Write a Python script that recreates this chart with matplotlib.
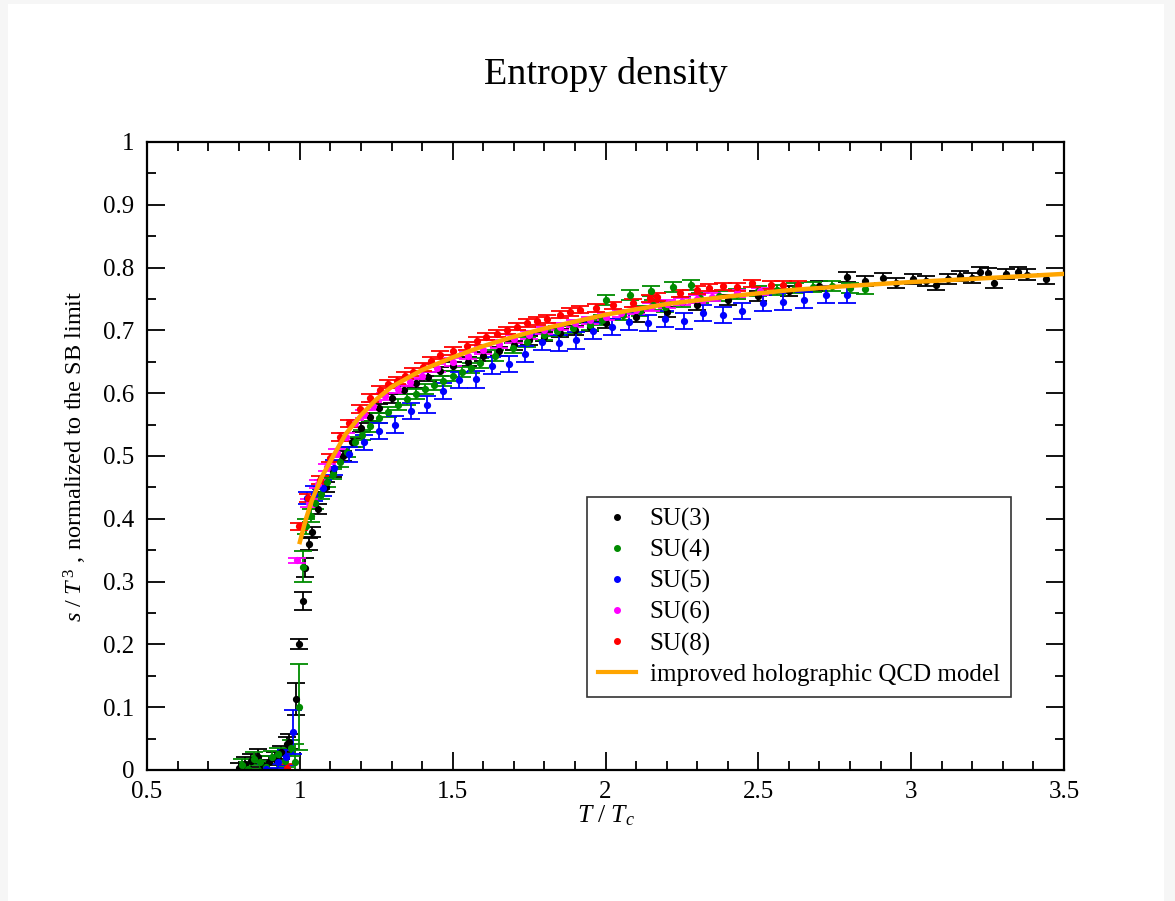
import matplotlib
matplotlib.use('Agg')
from matplotlib import pyplot as plt
from matplotlib.lines import Line2D
from matplotlib.patches import Rectangle
from matplotlib.ticker import MultipleLocator

plt.rcParams['font.family'] = ['Liberation Serif', 'DejaVu Serif']
plt.rcParams['mathtext.fontset'] = 'custom'
plt.rcParams['mathtext.rm'] = 'Liberation Serif'
plt.rcParams['mathtext.it'] = 'Liberation Serif:italic'

# SU(3)
T3 = [0.80, 0.82, 0.84, 0.864, 0.88, 0.90, 0.92, 0.94, 0.958, 0.965,
      0.987, 0.998, 1.009, 1.017, 1.030, 1.040, 1.060, 1.084, 1.11, 1.14,
      1.17, 1.20, 1.23, 1.26, 1.30, 1.34, 1.38, 1.42, 1.46, 1.50,
      1.55, 1.60, 1.65, 1.70, 1.75, 1.80, 1.85, 1.90, 1.95, 2.00,
      2.10, 2.20, 2.30, 2.40, 2.50, 2.60, 2.70, 2.79, 2.85, 2.907,
      2.95, 3.006, 3.05, 3.08, 3.12, 3.16, 3.20, 3.225, 3.25, 3.27,
      3.31, 3.35, 3.38, 3.44]
s3 = [0.003, 0.010, 0.015, 0.021, 0.008, 0.012, 0.018, 0.028, 0.041, 0.045,
      0.113, 0.200, 0.269, 0.322, 0.360, 0.379, 0.415, 0.450, 0.475, 0.500,
      0.522, 0.545, 0.562, 0.576, 0.592, 0.605, 0.616, 0.626, 0.635, 0.643,
      0.650, 0.659, 0.667, 0.676, 0.684, 0.690, 0.696, 0.700, 0.706, 0.711,
      0.721, 0.730, 0.740, 0.748, 0.755, 0.762, 0.770, 0.785, 0.778, 0.783,
      0.775, 0.782, 0.778, 0.772, 0.782, 0.787, 0.784, 0.793, 0.791, 0.776,
      0.790, 0.793, 0.789, 0.782]
ds3 = [0.008, 0.010, 0.010, 0.012, 0.008, 0.010, 0.010, 0.010, 0.012, 0.012,
       0.025, 0.008, 0.015, 0.015, 0.010, 0.008, 0.008, 0.008, 0.008, 0.008,
       0.007, 0.007, 0.007, 0.007, 0.007, 0.007, 0.007, 0.007, 0.007, 0.007,
       0.007, 0.007, 0.007, 0.007, 0.007, 0.007, 0.007, 0.007, 0.007, 0.007,
       0.008, 0.008, 0.008, 0.008, 0.008, 0.008, 0.008, 0.008, 0.008, 0.008,
       0.008, 0.008, 0.008, 0.008, 0.008, 0.008, 0.008, 0.008, 0.008, 0.008,
       0.008, 0.008, 0.008, 0.008]

# SU(4)
T4 = [0.81, 0.83, 0.85, 0.87, 0.89, 0.91, 0.93, 0.95, 0.97, 0.985,
      0.997, 1.010, 1.020, 1.035, 1.05, 1.07, 1.09, 1.11, 1.13, 1.155,
      1.18, 1.205, 1.23, 1.26, 1.29, 1.32, 1.35, 1.38, 1.41, 1.44,
      1.47, 1.50, 1.53, 1.56, 1.59, 1.638, 1.697, 1.743, 1.80, 1.84,
      1.894, 1.95, 1.99, 2.057, 2.113, 2.155, 2.195, 2.25, 2.31, 2.37,
      2.43, 2.50, 2.56, 2.62, 2.68, 2.74, 2.80, 2.85,
      2.00, 2.08, 2.15, 2.22, 2.28]
s4 = [0.008, 0.002, 0.018, 0.012, 0.005, 0.020, 0.025, 0.015, 0.035, 0.012,
      0.100, 0.324, 0.388, 0.405, 0.425, 0.440, 0.458, 0.472, 0.490, 0.506,
      0.522, 0.533, 0.547, 0.560, 0.570, 0.582, 0.590, 0.599, 0.606, 0.613,
      0.619, 0.627, 0.633, 0.640, 0.648, 0.660, 0.672, 0.682, 0.692, 0.699,
      0.704, 0.709, 0.716, 0.724, 0.731, 0.740, 0.737, 0.745, 0.751, 0.755,
      0.758, 0.762, 0.765, 0.767, 0.769, 0.771, 0.768, 0.766,
      0.748, 0.756, 0.763, 0.769, 0.772]
ds4 = [0.010, 0.010, 0.010, 0.010, 0.010, 0.010, 0.010, 0.010, 0.012, 0.030,
       0.068, 0.024, 0.012, 0.010, 0.010, 0.008, 0.008, 0.008, 0.008, 0.008,
       0.008, 0.008, 0.008, 0.008, 0.008, 0.008, 0.008, 0.008, 0.008, 0.008,
       0.008, 0.008, 0.008, 0.008, 0.008, 0.008, 0.008, 0.008, 0.008, 0.008,
       0.008, 0.008, 0.008, 0.008, 0.008, 0.008, 0.008, 0.008, 0.008, 0.008,
       0.008, 0.008, 0.008, 0.008, 0.008, 0.008, 0.008, 0.008,
       0.008, 0.008, 0.008, 0.008, 0.008]

# SU(5)
T5 = [0.89, 0.93, 0.955, 0.977,
      1.022, 1.045, 1.076, 1.113, 1.161, 1.21,
      1.26, 1.312, 1.365, 1.417, 1.469, 1.52, 1.575, 1.63, 1.683, 1.737,
      1.792, 1.848, 1.903, 1.96, 2.02, 2.078, 2.138, 2.196, 2.258, 2.32,
      2.384, 2.448, 2.515, 2.58, 2.65, 2.72, 2.79]
s5 = [0.002, 0.013, 0.020, 0.061,
      0.433, 0.440, 0.449, 0.481, 0.503, 0.522,
      0.540, 0.550, 0.572, 0.582, 0.604, 0.621, 0.622, 0.644, 0.646, 0.662,
      0.682, 0.680, 0.684, 0.699, 0.705, 0.714, 0.712, 0.718, 0.715, 0.728,
      0.725, 0.731, 0.744, 0.746, 0.748, 0.757, 0.757]
ds5 = [0.008, 0.010, 0.012, 0.035,
       0.010, 0.012, 0.012, 0.012, 0.012, 0.012,
       0.013, 0.013, 0.013, 0.013, 0.013, 0.013, 0.013, 0.013, 0.013, 0.013,
       0.013, 0.013, 0.013, 0.013, 0.013, 0.013, 0.013, 0.013, 0.013, 0.013,
       0.013, 0.013, 0.013, 0.013, 0.013, 0.013, 0.013]

# SU(6)
T6 = [0.99, 1.03, 1.06, 1.09, 1.12, 1.15, 1.18, 1.21, 1.24, 1.28,
      1.32, 1.36, 1.40, 1.45, 1.50, 1.55, 1.60, 1.65, 1.70, 1.75,
      1.80, 1.85, 1.90, 1.95, 2.00, 2.05, 2.10, 2.15, 2.20, 2.25,
      2.30, 2.35, 2.43, 2.505]
s6 = [0.334, 0.425, 0.455, 0.482, 0.505, 0.530, 0.552, 0.567, 0.580, 0.595,
      0.607, 0.618, 0.628, 0.640, 0.650, 0.660, 0.669, 0.678, 0.686, 0.693,
      0.700, 0.706, 0.711, 0.716, 0.722, 0.727, 0.732, 0.737, 0.742, 0.746,
      0.750, 0.753, 0.759, 0.762]
ds6 = [0.004, 0.006, 0.006, 0.006, 0.006, 0.006, 0.006, 0.006, 0.006, 0.006,
       0.006, 0.006, 0.006, 0.006, 0.006, 0.006, 0.006, 0.006, 0.006, 0.006,
       0.006, 0.006, 0.006, 0.006, 0.006, 0.006, 0.006, 0.006, 0.006, 0.006,
       0.006, 0.006, 0.006, 0.006]

# SU(8)
T8 = [0.959, 0.998, 1.026, 1.066, 1.10, 1.13, 1.16, 1.197, 1.23, 1.262,
      1.29, 1.317, 1.345, 1.37, 1.403, 1.43, 1.458, 1.50, 1.547, 1.58,
      1.61, 1.645, 1.677, 1.71, 1.743, 1.775, 1.808, 1.85, 1.885, 1.916,
      1.97, 2.025, 2.09, 2.145, 2.167, 2.243, 2.30, 2.34, 2.385, 2.43,
      2.48, 2.54, 2.58, 2.63]
s8 = [0.003, 0.388, 0.433, 0.462, 0.497, 0.530, 0.552, 0.575, 0.592, 0.605,
      0.615, 0.620, 0.628, 0.634, 0.642, 0.652, 0.661, 0.667, 0.675, 0.683,
      0.690, 0.695, 0.700, 0.706, 0.712, 0.715, 0.718, 0.725, 0.729, 0.733,
      0.736, 0.740, 0.744, 0.751, 0.753, 0.759, 0.764, 0.768, 0.770, 0.769,
      0.775, 0.772, 0.772, 0.772]
ds8 = [0.006, 0.006, 0.006, 0.006, 0.006, 0.006, 0.006, 0.006, 0.006, 0.006,
       0.006, 0.006, 0.006, 0.006, 0.006, 0.006, 0.006, 0.006, 0.006, 0.006,
       0.006, 0.006, 0.006, 0.006, 0.006, 0.006, 0.006, 0.006, 0.006, 0.006,
       0.006, 0.006, 0.006, 0.006, 0.006, 0.006, 0.006, 0.006, 0.006, 0.006,
       0.006, 0.006, 0.006, 0.006]

# holographic model curve
T_model = [1.0, 1.02, 1.04, 1.07, 1.1, 1.15, 1.2, 1.25, 1.3, 1.4, 1.5,
           1.6, 1.7, 1.8, 2.0, 2.2, 2.4, 2.6, 2.8, 3.0, 3.2, 3.5]
s_model = [0.363, 0.400, 0.430, 0.465, 0.492, 0.535, 0.565, 0.590, 0.610,
           0.637, 0.657, 0.675, 0.690, 0.703, 0.725, 0.742, 0.754, 0.764,
           0.771, 0.777, 0.782, 0.790]

xticks = [0.5, 1, 1.5, 2, 2.5, 3, 3.5]
xtick_labels = ['0.5', '1', '1.5', '2', '2.5', '3', '3.5']
yticks = [0, 0.1, 0.2, 0.3, 0.4, 0.5, 0.6, 0.7, 0.8, 0.9, 1]
ytick_labels = ['0', '0.1', '0.2', '0.3', '0.4', '0.5', '0.6', '0.7', '0.8', '0.9', '1']

labels = ['SU(3)', 'SU(4)', 'SU(5)', 'SU(6)', 'SU(8)']
colors = ['black', '#008b00', '#0000ff', '#ff00ff', '#ff0000']
series = [(T3, s3, ds3), (T4, s4, ds4), (T5, s5, ds5), (T6, s6, ds6), (T8, s8, ds8)]

fig = plt.figure(figsize=(11.75, 9.01), dpi=100)
fig.patch.set_facecolor('#f6f6f6')
fig.patches.append(Rectangle((8/1175, 0), 1156/1175, 1 - 4/901, transform=fig.transFigure,
                             facecolor='white', edgecolor='none', zorder=-10))
ax = fig.add_axes([147/1175, 131/901, 917/1175, 628/901])

for (x, y, e), c in zip(series, colors):
    ax.errorbar(x, y, yerr=e, fmt='o', color=c, ms=4.2, capsize=6.5,
                elinewidth=1.3, capthick=1.3)

ax.plot(T_model, s_model, color='#ffa500', lw=3.2, zorder=5)

ax.set_xlim(0.5, 3.5)
ax.set_ylim(0, 1)
ax.set_xticks(xticks)
ax.set_xticklabels(xtick_labels)
ax.set_yticks(yticks)
ax.set_yticklabels(ytick_labels)
ax.xaxis.set_minor_locator(MultipleLocator(0.1))
ax.yaxis.set_minor_locator(MultipleLocator(0.05))
ax.tick_params(which='both', direction='in', top=True, right=True, width=1.3, labelsize=18)
ax.tick_params(axis='x', pad=8)
ax.tick_params(axis='y', pad=9)
ax.tick_params(which='major', length=13)
ax.tick_params(which='minor', length=6.5)
for sp in ax.spines.values():
    sp.set_linewidth(1.6)

ax.set_xlabel(r'$T\ /\ T_c$', fontsize=18.5, labelpad=0)
ax.set_ylabel(r'$s\ /\ T^{\,3}$ , normalized to the SB limit', fontsize=17.5, labelpad=10)
ax.set_title('Entropy density', fontsize=27.5, pad=42)

handles = [Line2D([], [], ls='none', marker='o', ms=4, color=c) for c in colors]
handles.append(Line2D([], [], color='#ffa500', lw=3))
leg = ax.legend(handles, labels + ['improved holographic QCD model'],
                loc='upper left', bbox_to_anchor=(0.48, 0.435), borderaxespad=0,
                fontsize=18, frameon=True, fancybox=False, handlelength=1.5,
                labelspacing=0.32, handletextpad=0.55, borderpad=0.45)
leg.get_frame().set_edgecolor('black')
leg.get_frame().set_linewidth(1.2)

fig.savefig('out.png', dpi=100)
